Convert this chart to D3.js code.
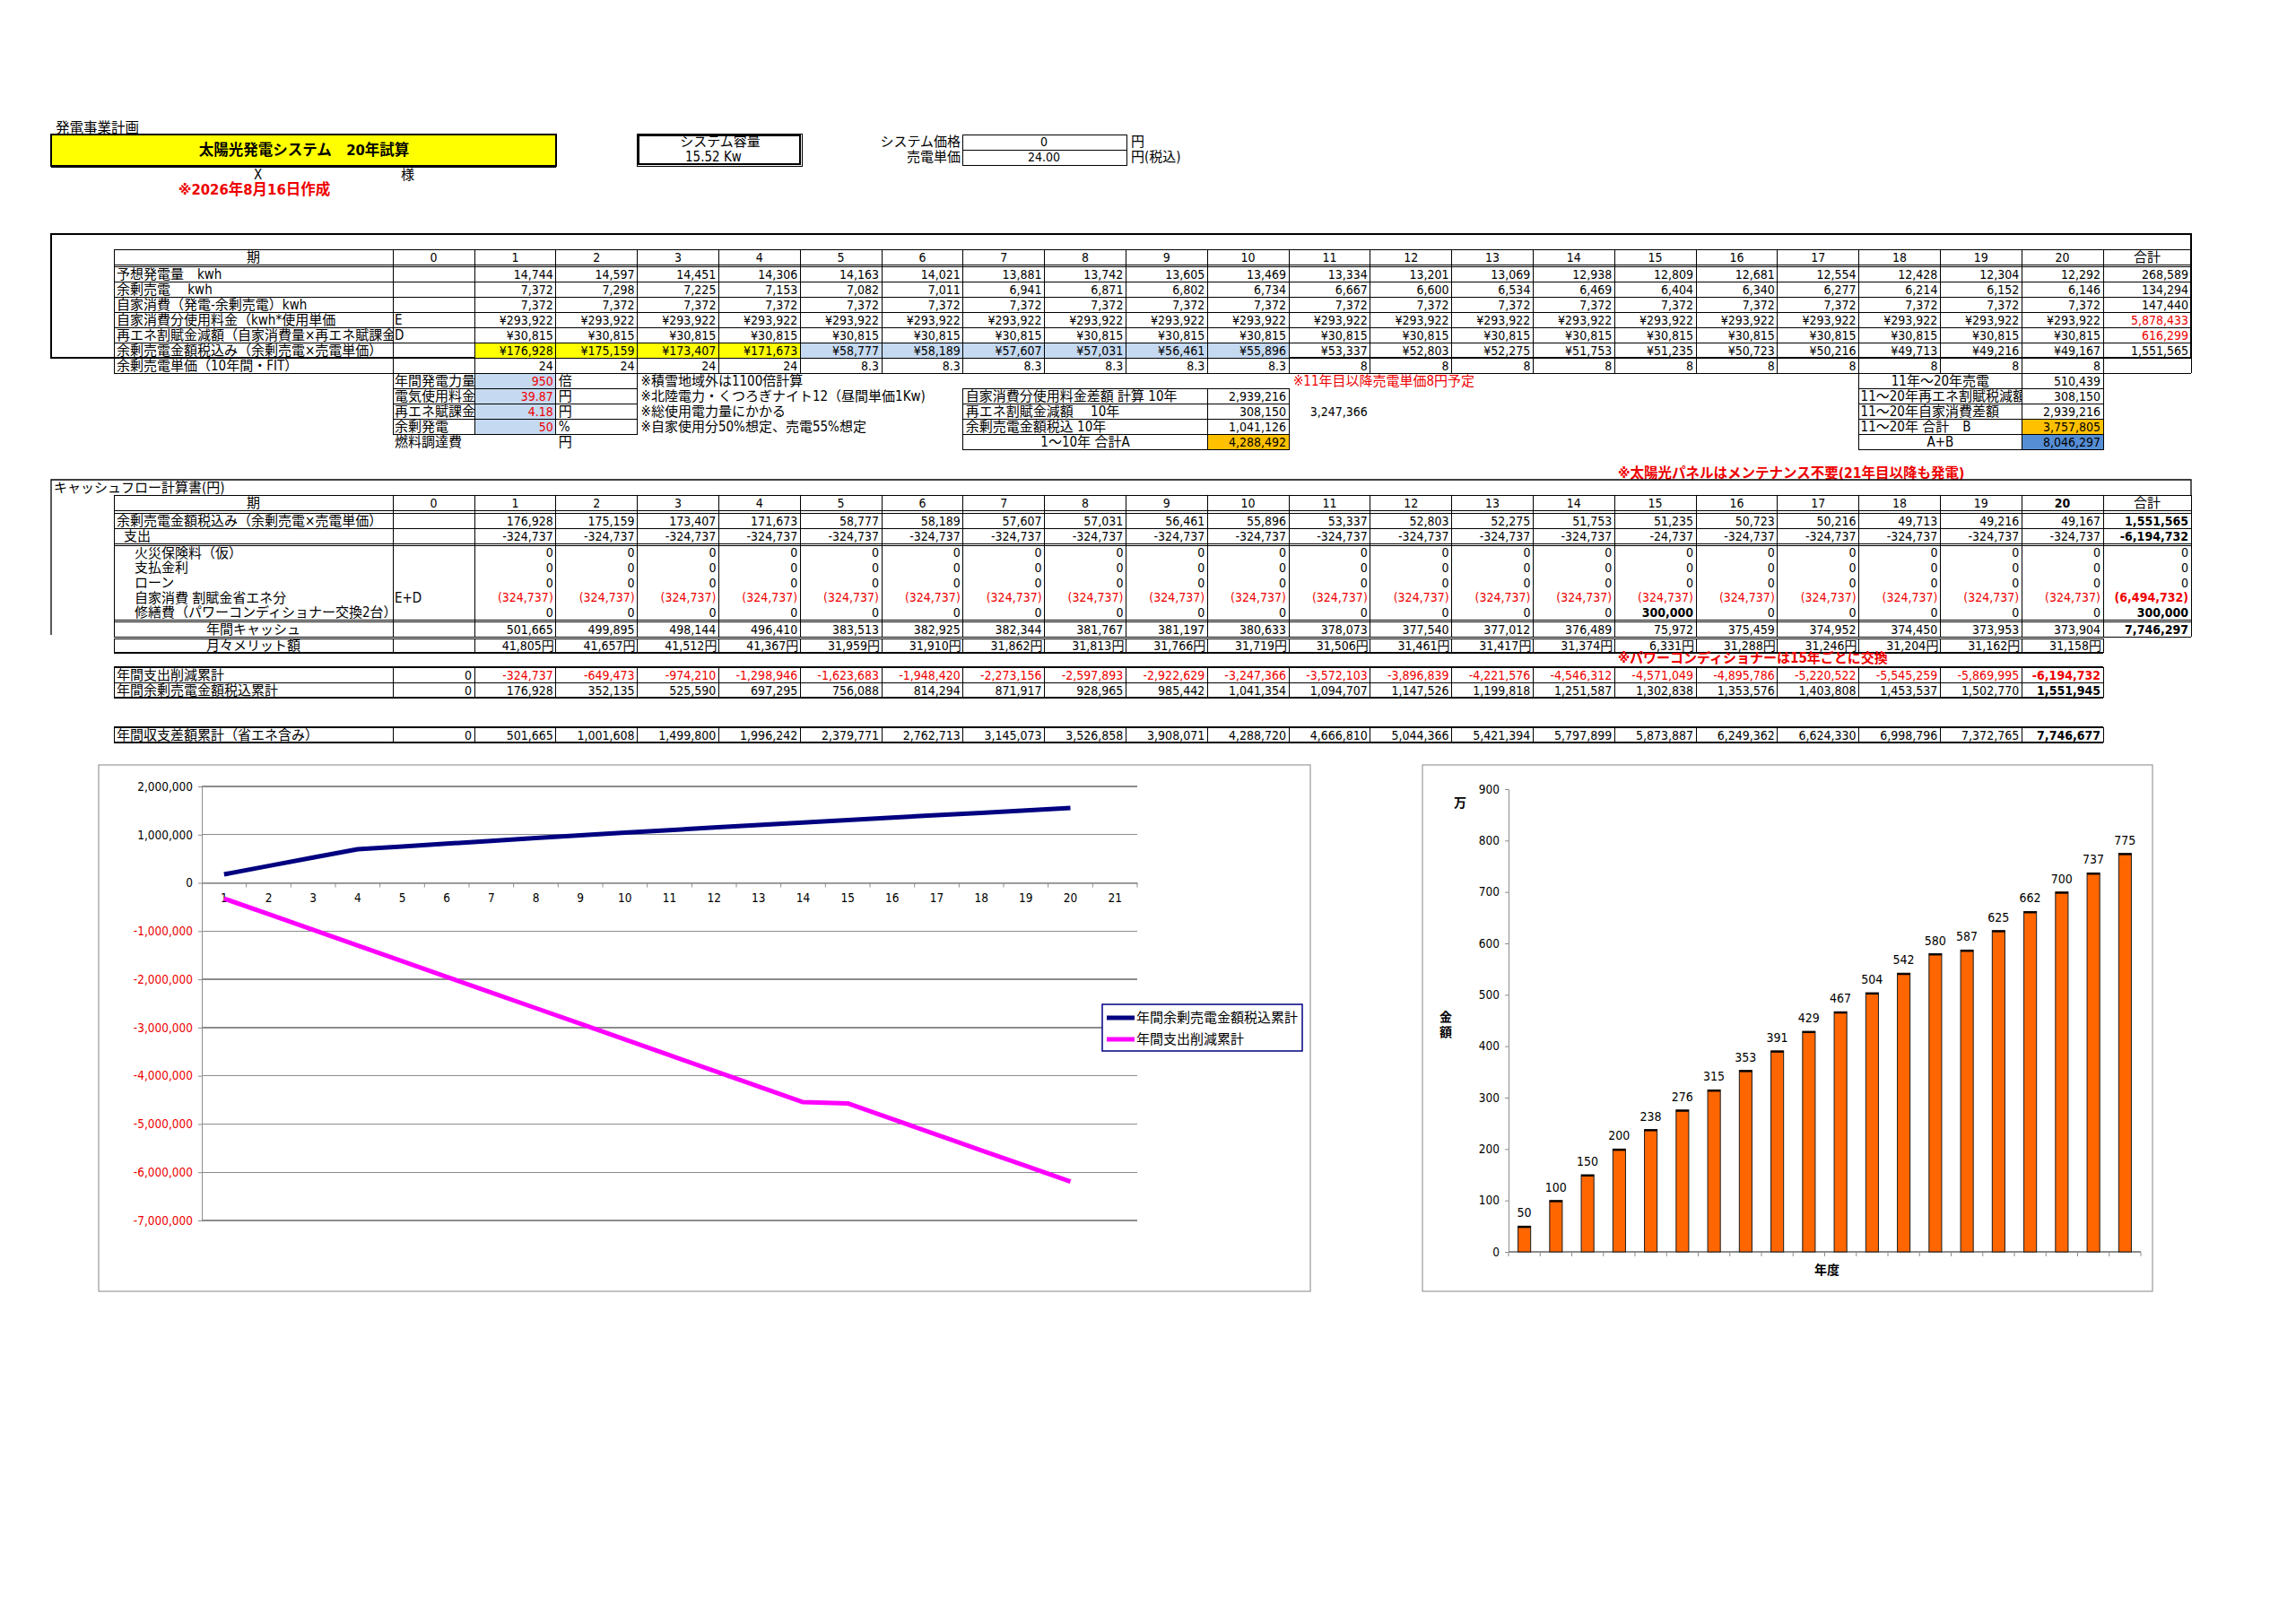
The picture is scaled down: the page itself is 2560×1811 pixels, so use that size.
<!DOCTYPE html>
<html lang="ja">
<head>
<meta charset="utf-8">
<title>太陽光発電システム 20年試算</title>
<script src="https://cdn.jsdelivr.net/npm/d3@7"></script>
<style>
  html, body { margin: 0; padding: 0; background: #fff; }
  svg { display: block; }
  text { font-family: "DejaVu Sans Condensed", "Noto Sans CJK JP", sans-serif; font-stretch: condensed; }
</style>
</head>
<body>
<svg id="sheet" width="2560" height="1811"></svg>
<script>
// ---- data ----
const periods = [1,2,3,4,5,6,7,8,9,10,11,12,13,14,15,16,17,18,19,20];
const genKwh = [14744,14597,14451,14306,14163,14021,13881,13742,13605,13469,13334,13201,13069,12938,12809,12681,12554,12428,12304,12292];
const surplusKwh = [7372,7298,7225,7153,7082,7011,6941,6871,6802,6734,6667,6600,6534,6469,6404,6340,6277,6214,6152,6146];
const selfKwh = [7372,7372,7372,7372,7372,7372,7372,7372,7372,7372,7372,7372,7372,7372,7372,7372,7372,7372,7372,7372];
const selfUseYen = [293922,293922,293922,293922,293922,293922,293922,293922,293922,293922,293922,293922,293922,293922,293922,293922,293922,293922,293922,293922];
const levyCutYen = [30815,30815,30815,30815,30815,30815,30815,30815,30815,30815,30815,30815,30815,30815,30815,30815,30815,30815,30815,30815];
const salesYen = [176928,175159,173407,171673,58777,58189,57607,57031,56461,55896,53337,52803,52275,51753,51235,50723,50216,49713,49216,49167];
const unitPrice = ["24","24","24","24","8.3","8.3","8.3","8.3","8.3","8.3","8","8","8","8","8","8","8","8","8","8"];
const table1Totals = [268589,134294,147440,5878433,616299,1551565];

const expense = [-324737,-324737,-324737,-324737,-324737,-324737,-324737,-324737,-324737,-324737,-324737,-324737,-324737,-324737,-24737,-324737,-324737,-324737,-324737,-324737];
const fireIns = [0,0,0,0,0,0,0,0,0,0,0,0,0,0,0,0,0,0,0,0];
const interest = [0,0,0,0,0,0,0,0,0,0,0,0,0,0,0,0,0,0,0,0];
const loan = [0,0,0,0,0,0,0,0,0,0,0,0,0,0,0,0,0,0,0,0];
const selfSaving = [-324737,-324737,-324737,-324737,-324737,-324737,-324737,-324737,-324737,-324737,-324737,-324737,-324737,-324737,-324737,-324737,-324737,-324737,-324737,-324737];
const repair = [0,0,0,0,0,0,0,0,0,0,0,0,0,0,300000,0,0,0,0,0];
const annualCash = [501665,499895,498144,496410,383513,382925,382344,381767,381197,380633,378073,377540,377012,376489,75972,375459,374952,374450,373953,373904];
const monthlyMerit = [41805,41657,41512,41367,31959,31910,31862,31813,31766,31719,31506,31461,31417,31374,6331,31288,31246,31204,31162,31158];
const cashTotals = [1551565,-6194732,0,0,0,-6494732,300000,7746297];

// period 0 .. 20
const cumCost = [0,-324737,-649473,-974210,-1298946,-1623683,-1948420,-2273156,-2597893,-2922629,-3247366,-3572103,-3896839,-4221576,-4546312,-4571049,-4895786,-5220522,-5545259,-5869995,-6194732];
const cumSales = [0,176928,352135,525590,697295,756088,814294,871917,928965,985442,1041354,1094707,1147526,1199818,1251587,1302838,1353576,1403808,1453537,1502770,1551945];
const cumBalance = [0,501665,1001608,1499800,1996242,2379771,2762713,3145073,3526858,3908071,4288720,4666810,5044366,5421394,5797899,5873887,6249362,6624330,6998796,7372765,7746677];

const lineCats = [1,2,3,4,5,6,7,8,9,10,11,12,13,14,15,16,17,18,19,20,21];
const lineTicks = [2000000,1000000,0,-1000000,-2000000,-3000000,-4000000,-5000000,-6000000,-7000000];
const barValues = [50,100,150,200,238,276,315,353,391,429,467,504,542,580,587,625,662,700,737,775];
const barTicks = [0,100,200,300,400,500,600,700,800,900];

const params = [
  { name: "年間発電力量", val: "950", unit: "倍", note: "※積雪地域外は1100倍計算" },
  { name: "電気使用料金", val: "39.87", unit: "円", note: "※北陸電力・くつろぎナイト12（昼間単価1Kw)" },
  { name: "再エネ賦課金", val: "4.18", unit: "円", note: "※総使用電力量にかかる" },
  { name: "余剰発電", val: "50", unit: "%", note: "※自家使用分50%想定、売電55%想定" }
];
const sumA = [["自家消費分使用料金差額  計算 10年", 2939216], ["再エネ割賦金減額　 10年", 308150], ["余剰売電金額税込  10年", 1041126], ["1～10年  合計A", 4288492]];
const sumB = [["11年～20年売電", 510439], ["11～20年再エネ割賦税減額", 308150], ["11～20年自家消費差額", 2939216], ["11～20年  合計　B", 3757805], ["A+B", 8046297]];

// ---- helpers ----
const loc = d3.formatLocale({ decimal: ".", thousands: ",", grouping: [3], currency: ["¥", ""], minus: "-" });
const comma = loc.format(",");
const yen = v => "¥" + comma(v);
const paren = v => v < 0 ? "(" + comma(-v) + ")" : comma(v);
const JP = 15;   // size of the Japanese labels
const NUM = 14;  // size of the figures

const svg = d3.select("#sheet");
svg.append("rect").attr("width", 2560).attr("height", 1811).attr("fill", "#fff");
const defs = svg.append("defs");
let clipN = 0;
function clip(x, y, w, h) {
  const id = "cl" + (clipN++);
  defs.append("clipPath").attr("id", id).append("rect").attr("x", x).attr("y", y).attr("width", w).attr("height", h);
  return id;
}
function txt(g, x, y, s, o = {}) {
  const t = g.append("text").attr("x", x).attr("y", y).attr("dy", "0.36em")
    .attr("font-size", o.size || NUM)
    .attr("text-anchor", o.anchor || "start")
    .attr("fill", o.color || "#000")
    .text(s);
  if (o.bold) t.attr("font-weight", "bold");
  if (o.clip) t.attr("clip-path", `url(#${o.clip})`);
  return t;
}
function hl(g, x1, x2, y, w = 1, c = "#000") {
  g.append("line").attr("x1", x1).attr("x2", x2).attr("y1", y).attr("y2", y).attr("stroke", c).attr("stroke-width", w).attr("shape-rendering", "crispEdges");
}
function vl(g, x, y1, y2, w = 1, c = "#000") {
  g.append("line").attr("x1", x).attr("x2", x).attr("y1", y1).attr("y2", y2).attr("stroke", c).attr("stroke-width", w).attr("shape-rendering", "crispEdges");
}
function box(g, x, y, w, h, fill, sw = 1) {
  g.append("rect").attr("x", x).attr("y", y).attr("width", w).attr("height", h)
    .attr("fill", fill || "none").attr("stroke", "#000").attr("stroke-width", sw).attr("shape-rendering", "crispEdges");
}

// column layout of the sheet: label | 0 | 1..20 | 合計
const LBL_L = 127, LBL_R = 438, C0_L = 438;
const colLeft = d3.scaleLinear().domain([1, 21]).range([529, 2345]);
const colW = colLeft(2) - colLeft(1);
const TOT_R = 2443;
const colEdges = [LBL_L, LBL_R].concat(d3.range(1, 22).map(colLeft), [TOT_R]);
const RED = "#ee0000";

// ---- header ----
const hd = svg.append("g");
txt(hd, 62, 142, "発電事業計画", { size: 15.5 });
box(hd, 57, 150, 563, 35, "#ffff00", 1.5);
hl(hd, 57, 620, 186, 1.5);
txt(hd, 339, 167, "太陽光発電システム　20年試算", { anchor: "middle", bold: true, size: 16.5 });
txt(hd, 283, 195, "X", { size: 15 });
txt(hd, 447, 195, "様", { size: 15 });
txt(hd, 199, 211, "※2026年8月16日作成", { color: RED, bold: true, size: 16.5 });
box(hd, 710, 149, 184, 36, null, 1);
box(hd, 712, 151, 180, 32, null, 1.5);
txt(hd, 803, 158, "システム容量", { anchor: "middle", size: 15 });
txt(hd, 764, 175, "15.52  Kw", { size: 15 });
txt(hd, 1071, 158, "システム価格", { anchor: "end", size: 15 });
txt(hd, 1071, 175, "売電単価", { anchor: "end", size: 15 });
box(hd, 1073, 150, 183, 17);
box(hd, 1073, 167, 183, 17);
txt(hd, 1164, 158, "0", { anchor: "middle" });
txt(hd, 1164, 175, "24.00", { anchor: "middle" });
txt(hd, 1261, 158, "円", { size: 15 });
txt(hd, 1261, 175, "円(税込)", { size: 15 });

// ---- table 1 ----
const t1 = svg.append("g");
box(t1, 57, 261, 2443 - 57, 399 - 261, null, 1.3);
const RH = 17;
const t1Head = [278, 295], t1Body = 297;
const t1RowY = i => t1Body + i * RH;
const t1Rows = [
  { name: "予想発電量　kwh", vals: genKwh.map(comma) },
  { name: "余剰売電　 kwh", vals: surplusKwh.map(comma) },
  { name: "自家消費（発電-余剰売電）kwh", vals: selfKwh.map(comma) },
  { name: "自家消費分使用料金（kwh*使用単価", code: "E", vals: selfUseYen.map(yen) },
  { name: "再エネ割賦金減額（自家消費量×再エネ賦課金", code: "D", vals: levyCutYen.map(yen) },
  { name: "余剰売電金額税込み（余剰売電×売電単価）", vals: salesYen.map(yen) },
  { name: "余剰売電単価（10年間・FIT）", vals: unitPrice }
];
// highlighted sales cells
periods.forEach(p => {
  if (p > 10) return;
  t1.append("rect").attr("x", colLeft(p)).attr("y", t1RowY(5)).attr("width", colW).attr("height", RH)
    .attr("fill", p <= 4 ? "#ffff00" : "#c5d9f1");
});
// grid
[t1Head[0], t1Head[1]].concat(d3.range(0, 8).map(t1RowY)).forEach(y => hl(t1, LBL_L, TOT_R, y));
colEdges.forEach(x => vl(t1, x, t1Head[0], t1RowY(7)));
// header text
const hy = (t1Head[0] + t1Head[1]) / 2;
txt(t1, (LBL_L + LBL_R) / 2, hy, "期", { anchor: "middle", size: JP });
txt(t1, (C0_L + colLeft(1)) / 2, hy, "0", { anchor: "middle" });
periods.forEach(p => txt(t1, colLeft(p) + colW / 2, hy, String(p), { anchor: "middle" }));
txt(t1, (colLeft(21) + TOT_R) / 2, hy, "合計", { anchor: "middle", size: JP });
t1Rows.forEach((r, i) => {
  const y = t1RowY(i) + RH / 2;
  txt(t1, LBL_L + 3, y, r.name, { size: JP, clip: clip(LBL_L, t1RowY(i), LBL_R - LBL_L, RH) });
  if (r.code) txt(t1, C0_L + 2, y, r.code, { size: JP });
  r.vals.forEach((v, j) => txt(t1, colLeft(j + 2) - 3, y, v, { anchor: "end" }));
  if (i < table1Totals.length) txt(t1, TOT_R - 3, y, comma(table1Totals[i]), { anchor: "end", color: (i === 3 || i === 4) ? RED : "#000" });
});

// ---- parameters & summaries ----
const pm = svg.append("g");
const pTop = t1RowY(7);
params.forEach((p, i) => {
  const y0 = pTop + i * RH;
  pm.append("rect").attr("x", colLeft(1)).attr("y", y0).attr("width", colW).attr("height", RH).attr("fill", "#c5d9f1");
  box(pm, C0_L, y0, colLeft(1) - C0_L, RH);
  box(pm, colLeft(1), y0, colW, RH);
  box(pm, colLeft(2), y0, colW, RH);
  txt(pm, C0_L + 2, y0 + RH / 2, p.name, { size: JP, clip: clip(C0_L, y0, colLeft(1) - C0_L, RH) });
  txt(pm, colLeft(2) - 3, y0 + RH / 2, p.val, { anchor: "end", color: RED });
  txt(pm, colLeft(2) + 3, y0 + RH / 2, p.unit, { size: JP });
  txt(pm, colLeft(3) + 4, y0 + RH / 2, p.note, { size: JP });
});
txt(pm, C0_L + 2, pTop + 4 * RH + RH / 2, "燃料調達費", { size: JP });
txt(pm, colLeft(2) + 3, pTop + 4 * RH + RH / 2, "円", { size: JP });

sumA.forEach((s, i) => {
  const y0 = pTop + (i + 1) * RH;
  const last = i === sumA.length - 1;
  if (last) pm.append("rect").attr("x", colLeft(10)).attr("y", y0).attr("width", colW).attr("height", RH).attr("fill", "#ffc000");
  box(pm, colLeft(7), y0, colLeft(10) - colLeft(7), RH);
  box(pm, colLeft(10), y0, colW, RH);
  txt(pm, last ? (colLeft(7) + colLeft(10)) / 2 : colLeft(7) + 3, y0 + RH / 2, s[0], { size: JP, anchor: last ? "middle" : "start" });
  txt(pm, colLeft(11) - 3, y0 + RH / 2, comma(s[1]), { anchor: "end" });
});
txt(pm, colLeft(12) - 3, pTop + 2 * RH + RH / 2, comma(3247366), { anchor: "end" });
txt(pm, colLeft(11) + 5, pTop + RH / 2, "※11年目以降売電単価8円予定", { color: RED, size: JP });

sumB.forEach((s, i) => {
  const y0 = pTop + i * RH;
  const fill = i === 3 ? "#ffc000" : (i === 4 ? "#558ed5" : null);
  if (fill) pm.append("rect").attr("x", colLeft(20)).attr("y", y0).attr("width", colW).attr("height", RH).attr("fill", fill);
  box(pm, colLeft(18), y0, colLeft(20) - colLeft(18), RH);
  box(pm, colLeft(20), y0, colW, RH);
  const centred = i === 0 || i === 4;
  txt(pm, centred ? (colLeft(18) + colLeft(20)) / 2 : colLeft(18) + 2, y0 + RH / 2, s[0],
    { size: JP, anchor: centred ? "middle" : "start", clip: clip(colLeft(18), y0, colLeft(20) - colLeft(18), RH) });
  txt(pm, colLeft(21) - 3, y0 + RH / 2, comma(s[1]), { anchor: "end" });
});
txt(pm, 1804, 527, "※太陽光パネルはメンテナンス不要(21年目以降も発電)", { color: RED, bold: true, size: 15.5 });

// ---- cash flow table ----
const cf = svg.append("g");
cf.append("path").attr("d", "M57,708V535H2443V552").attr("fill", "none").attr("stroke", "#000").attr("stroke-width", 1.3);
txt(cf, 60, 544, "キャッシュフロー計算書(円)", { size: JP });
const cfHead = [552, 569];
const cfRows = [
  { name: "余剰売電金額税込み（余剰売電×売電単価）", x: 3, vals: salesYen.map(comma) },
  { name: "支出", x: 11, vals: expense.map(comma) },
  { name: "火災保険料（仮）", x: 23, vals: fireIns.map(comma) },
  { name: "支払金利", x: 23, vals: interest.map(comma) },
  { name: "ローン", x: 23, vals: loan.map(comma) },
  { name: "自家消費  割賦金省エネ分", x: 23, code: "E+D", vals: selfSaving.map(paren), color: RED },
  { name: "修繕費（パワーコンディショナー交換2台）", x: 23, vals: repair.map(comma), boldIf: v => v !== "0" },
  { name: "年間キャッシュ", mid: true, vals: annualCash.map(comma) }
];
const subH = 16.6;
const cfY = [572, 589, 608, 608 + subH, 608 + 2 * subH, 608 + 3 * subH, 608 + 4 * subH, 693];
const cfH = [17, 17, subH, subH, subH, subH, subH, 17];
// grid lines
[552, 569, 572, 589, 606, 608, 691, 693, 710].forEach(y => hl(cf, LBL_L, TOT_R, y));
colEdges.forEach(x => vl(cf, x, 552, 710));
[712, 728].forEach((y, k) => hl(cf, LBL_L, colLeft(21), y, k ? 2 : 1));
colEdges.slice(0, -1).forEach(x => vl(cf, x, 712, 728));
const chy = (cfHead[0] + cfHead[1]) / 2;
txt(cf, (LBL_L + LBL_R) / 2, chy, "期", { anchor: "middle", size: JP });
txt(cf, (C0_L + colLeft(1)) / 2, chy, "0", { anchor: "middle" });
periods.forEach(p => txt(cf, colLeft(p) + colW / 2, chy, String(p), { anchor: "middle", bold: p === 20 }));
txt(cf, (colLeft(21) + TOT_R) / 2, chy, "合計", { anchor: "middle", size: JP });
cfRows.forEach((r, i) => {
  const y = cfY[i] + cfH[i] / 2;
  txt(cf, r.mid ? (LBL_L + LBL_R) / 2 : LBL_L + r.x, y, r.name, { size: JP, anchor: r.mid ? "middle" : "start", clip: clip(LBL_L, cfY[i], LBL_R - LBL_L, cfH[i]) });
  if (r.code) txt(cf, C0_L + 2, y, r.code, { size: JP });
  r.vals.forEach((v, j) => txt(cf, colLeft(j + 2) - 3, y, v, { anchor: "end", color: r.color || "#000", bold: r.boldIf ? r.boldIf(v) : false }));
  const t = cashTotals[i];
  const ts = i === 5 ? paren(t) : comma(t);
  txt(cf, TOT_R - 3, y, ts, { anchor: "end", bold: t !== 0, color: r.color || "#000" });
});
txt(cf, (LBL_L + LBL_R) / 2, 720, "月々メリット額", { size: JP, anchor: "middle" });
monthlyMerit.forEach((v, j) => txt(cf, colLeft(j + 2) - 2, 720, comma(v) + "円", { anchor: "end" }));
txt(cf, 1804, 734, "※パワーコンディショナーは15年ごとに交換", { color: RED, bold: true, size: 15 });

// ---- cumulative rows ----
const cu = svg.append("g");
function cumBlock(top, rows) {
  const bottom = top + rows.length * RH;
  hl(cu, LBL_L, colLeft(21), top, 2);
  rows.forEach((r, i) => { if (i > 0) hl(cu, LBL_L, colLeft(21), top + i * RH); });
  hl(cu, LBL_L, colLeft(21), bottom, 2);
  colEdges.slice(0, -1).forEach(x => vl(cu, x, top, bottom));
  rows.forEach((r, i) => {
    const y = top + i * RH + RH / 2;
    txt(cu, LBL_L + 3, y, r.name, { size: JP });
    r.vals.forEach((v, j) => {
      const right = j === 0 ? colLeft(1) - 3 : colLeft(j + 1) - 3;
      txt(cu, right, y, comma(v), { anchor: "end", color: r.red && v !== 0 ? RED : "#000", bold: j === 20 });
    });
  });
}
cumBlock(744, [
  { name: "年間支出削減累計", vals: cumCost, red: true },
  { name: "年間余剰売電金額税込累計", vals: cumSales }
]);
cumBlock(811, [{ name: "年間収支差額累計（省エネ含み）", vals: cumBalance }]);

// ---- line chart ----
const lc = svg.append("g");
lc.append("rect").attr("x", 110).attr("y", 853).attr("width", 1351).attr("height", 587)
  .attr("fill", "#fff").attr("stroke", "#9a9a9a").attr("stroke-width", 1.2);
const lx = d3.scaleBand().domain(lineCats).range([225, 1268]);
const ly = d3.scaleLinear().domain([-7000000, 2000000]).range([1361, 877]);
lc.append("g").selectAll("line").data(lineTicks).join("line")
  .attr("x1", 225).attr("x2", 1268).attr("y1", d => ly(d)).attr("y2", d => ly(d))
  .attr("stroke", "#8c8c8c").attr("stroke-width", 1.3).attr("shape-rendering", "crispEdges");
const lyAxis = lc.append("g").attr("transform", "translate(225,0)")
  .call(d3.axisLeft(ly).tickValues(lineTicks).tickFormat(comma).tickSize(4).tickPadding(6));
lyAxis.select(".domain").attr("stroke", "#8c8c8c");
lyAxis.selectAll(".tick line").attr("stroke", "#8c8c8c");
lyAxis.selectAll("text").attr("font-size", 13.5).attr("font-family", null).attr("fill", d => d < 0 ? RED : "#000");
const lxAxis = lc.append("g").attr("transform", `translate(0,${ly(0)})`)
  .call(d3.axisBottom(lx).tickSize(0).tickPadding(12));
lxAxis.select(".domain").attr("stroke", "#8c8c8c").attr("stroke-width", 1.3);
lxAxis.selectAll("text").attr("font-size", 13.5).attr("font-family", null).attr("fill", "#000");
lc.append("g").selectAll("line").data(lineCats).join("line")
  .attr("x1", d => lx(d) + lx.bandwidth()).attr("x2", d => lx(d) + lx.bandwidth())
  .attr("y1", ly(0)).attr("y2", ly(0) + 5).attr("stroke", "#8c8c8c");
const lineGen = d3.line().x(d => lx(d.p) + lx.bandwidth() / 2).y(d => ly(d.v));
const salesPts = periods.map((p, i) => ({ p, v: cumSales[i + 1] }));
const costPts = periods.map((p, i) => ({ p, v: cumCost[i + 1] }));
lc.append("path").datum(salesPts).attr("d", lineGen).attr("fill", "none").attr("stroke", "#000080").attr("stroke-width", 5).attr("stroke-linejoin", "round");
lc.append("path").datum(costPts).attr("d", lineGen).attr("fill", "none").attr("stroke", "#ff00ff").attr("stroke-width", 5).attr("stroke-linejoin", "round");
const lg = lc.append("g");
lg.append("rect").attr("x", 1229).attr("y", 1120).attr("width", 223).attr("height", 52)
  .attr("fill", "#fff").attr("stroke", "#000080").attr("stroke-width", 1.5);
[["年間余剰売電金額税込累計", "#000080"], ["年間支出削減累計", "#ff00ff"]].forEach((e, i) => {
  const y = 1135 + i * 24;
  lg.append("line").attr("x1", 1234).attr("x2", 1265).attr("y1", y).attr("y2", y).attr("stroke", e[1]).attr("stroke-width", 5);
  txt(lg, 1267, y, e[0], { size: JP });
});

// ---- bar chart ----
const bc = svg.append("g");
bc.append("rect").attr("x", 1586).attr("y", 853).attr("width", 814).attr("height", 587)
  .attr("fill", "#fff").attr("stroke", "#9a9a9a").attr("stroke-width", 1.2);
const bx = d3.scaleBand().domain(periods).range([1682, 2387]).paddingInner(0.6).paddingOuter(0.3);
const by = d3.scaleLinear().domain([0, 900]).range([1396, 880]);
const byAxis = bc.append("g").attr("transform", "translate(1682,0)")
  .call(d3.axisLeft(by).tickValues(barTicks).tickSize(4).tickPadding(6));
byAxis.select(".domain").attr("stroke", "#8c8c8c");
byAxis.selectAll(".tick line").attr("stroke", "#8c8c8c");
byAxis.selectAll("text").attr("font-size", 13.5).attr("font-family", null).attr("fill", "#000");
hl(bc, 1682, 2387, by(0), 1.3, "#8c8c8c");
const step = bx.step();
bc.append("g").selectAll("line").data(d3.range(0, periods.length + 1)).join("line")
  .attr("x1", d => 1682 + d * step).attr("x2", d => 1682 + d * step)
  .attr("y1", by(0)).attr("y2", by(0) + 5).attr("stroke", "#8c8c8c");
bc.append("g").selectAll("rect").data(barValues).join("rect")
  .attr("x", (d, i) => bx(periods[i])).attr("y", d => by(d))
  .attr("width", bx.bandwidth()).attr("height", d => by(0) - by(d))
  .attr("fill", "#ff6600").attr("stroke", "#1a1a1a").attr("stroke-width", 1);
bc.append("g").selectAll("line").data(barValues).join("line")
  .attr("x1", (d, i) => bx(periods[i])).attr("x2", (d, i) => bx(periods[i]) + bx.bandwidth())
  .attr("y1", d => by(d) + 1).attr("y2", d => by(d) + 1).attr("stroke", "#000").attr("stroke-width", 2);
bc.append("g").selectAll("text").data(barValues).join("text")
  .attr("x", (d, i) => bx(periods[i]) + bx.bandwidth() / 2).attr("y", d => by(d) - 15)
  .attr("dy", "0.36em").attr("text-anchor", "middle").attr("font-size", 14).text(d => d);
txt(bc, 1628, 895, "万", { bold: true, size: 14, anchor: "middle" });
txt(bc, 1612, 1134, "金", { bold: true, size: 14, anchor: "middle" });
txt(bc, 1612, 1151, "額", { bold: true, size: 14, anchor: "middle" });
txt(bc, 2037, 1416, "年度", { bold: true, size: 14, anchor: "middle" });
</script>
</body>
</html>
